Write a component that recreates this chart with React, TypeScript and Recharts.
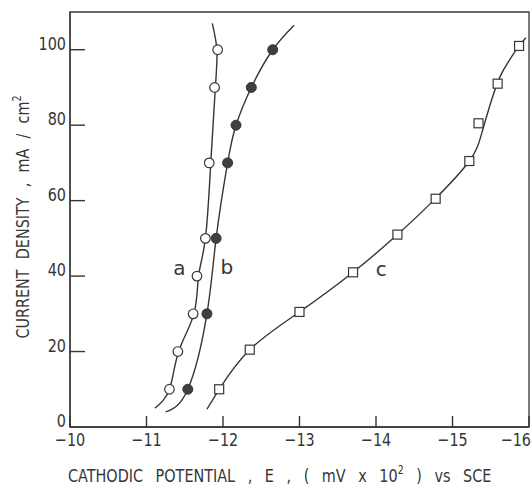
import {
  ComposedChart,
  Line,
  Scatter,
  XAxis,
  YAxis,
  ReferenceArea,
  ReferenceDot,
} from "recharts";

// measured points (E in mV x 10^2, current density in mA/cm2)
const seriesA = [
  { x: -11.3, y: 10 },
  { x: -11.41, y: 20 },
  { x: -11.61, y: 30 },
  { x: -11.66, y: 40 },
  { x: -11.77, y: 50 },
  { x: -11.82, y: 70 },
  { x: -11.89, y: 90 },
  { x: -11.93, y: 100 },
];
const seriesB = [
  { x: -11.54, y: 10 },
  { x: -11.79, y: 30 },
  { x: -11.91, y: 50 },
  { x: -12.06, y: 70 },
  { x: -12.17, y: 80 },
  { x: -12.37, y: 90 },
  { x: -12.65, y: 100 },
];
const seriesC = [
  { x: -11.95, y: 10 },
  { x: -12.35, y: 20.5 },
  { x: -13.0, y: 30.5 },
  { x: -13.7, y: 41 },
  { x: -14.28, y: 51 },
  { x: -14.78, y: 60.5 },
  { x: -15.22, y: 70.5 },
  { x: -15.34, y: 80.5 },
  { x: -15.59, y: 91 },
  { x: -15.87, y: 101 },
];

// hand-drawn fitted curves
const curveA = [
  { x: -11.11, y: 5 },
  { x: -11.3, y: 10 },
  { x: -11.42, y: 20 },
  { x: -11.62, y: 30 },
  { x: -11.68, y: 40 },
  { x: -11.77, y: 50 },
  { x: -11.84, y: 70 },
  { x: -11.9, y: 90 },
  { x: -11.92, y: 100 },
  { x: -11.86, y: 107 },
];
const curveB = [
  { x: -11.25, y: 4 },
  { x: -11.54, y: 10 },
  { x: -11.79, y: 30 },
  { x: -11.91, y: 50 },
  { x: -12.06, y: 70 },
  { x: -12.17, y: 80 },
  { x: -12.37, y: 90 },
  { x: -12.65, y: 100 },
  { x: -12.93, y: 106.5 },
];
const curveC = [
  { x: -11.79, y: 4.7 },
  { x: -11.95, y: 10 },
  { x: -12.35, y: 20.5 },
  { x: -13.0, y: 30.5 },
  { x: -13.7, y: 41 },
  { x: -14.28, y: 51 },
  { x: -14.78, y: 60.6 },
  { x: -15.22, y: 70.5 },
  { x: -15.38, y: 77.7 },
  { x: -15.51, y: 86.6 },
  { x: -15.62, y: 92.8 },
  { x: -15.73, y: 96.8 },
  { x: -15.87, y: 101 },
  { x: -15.96, y: 103.2 },
];

const curveLabels = [
  { name: "a", x: -11.43, y: 42.2 },
  { name: "b", x: -12.05, y: 42.4 },
  { name: "c", x: -14.07, y: 41.8 },
];

const xTicks = [-10, -11, -12, -13, -14, -15, -16];
const yTicks = [0, 20, 40, 60, 80, 100];

const INK = "#363636";
const FONT = "'DejaVu Sans', sans-serif";
const SQUEEZE = 0.8; // the original lettering is narrow

// chart geometry: margins + axis sizes decide where the axis lines sit
const W = 532;
const H = 490;
const MARGIN = { top: 12, right: 3, left: 30, bottom: 33 };
const Y_AXIS_W = 40;
const X_AXIS_H = 30;
const PLOT_LEFT = MARGIN.left + Y_AXIS_W;
const PLOT_BOTTOM = H - MARGIN.bottom - X_AXIS_H;
const X_TICK = 11; // inward tick lengths
const Y_TICK = 15;

// text drawn with narrower glyphs than any installed font offers
function Narrow({ x, y, anchor = "start", size = 18, rotate = 0, children, ...rest }: any) {
  return (
    <g transform={`translate(${x} ${y}) rotate(${rotate}) scale(${SQUEEZE} 1)`}>
      <text
        x={0}
        y={0}
        textAnchor={anchor}
        fontSize={size}
        fontFamily={FONT}
        fill={INK}
        {...rest}
      >
        {children}
      </text>
    </g>
  );
}

// ticks point into the plot, so draw them from the axis line ourselves
function XTick({ x, payload }: any) {
  const v = payload.value as number;
  const last = v === -16;
  return (
    <g>
      <line
        x1={x}
        x2={x}
        y1={PLOT_BOTTOM}
        y2={PLOT_BOTTOM - X_TICK}
        stroke={INK}
        strokeWidth={1.4}
      />
      <Narrow x={last ? 531 : x} y={PLOT_BOTTOM + 19} anchor={last ? "end" : "middle"}>
        {"\u2212" + Math.abs(v)}
      </Narrow>
    </g>
  );
}

function YTick({ y, payload }: any) {
  return (
    <g>
      {payload.value !== 0 && (
        <line
          x1={PLOT_LEFT}
          x2={PLOT_LEFT + Y_TICK}
          y1={y}
          y2={y}
          stroke={INK}
          strokeWidth={1.4}
        />
      )}
      <Narrow x={PLOT_LEFT - 4} y={y} anchor="end">
        {payload.value}
      </Narrow>
    </g>
  );
}

const OpenCircle = ({ cx, cy }: any) => (
  <circle cx={cx} cy={cy} r={4.8} fill="#fff" stroke={INK} strokeWidth={1.2} />
);
const FilledCircle = ({ cx, cy }: any) => (
  <circle cx={cx} cy={cy} r={5} fill="#3d403b" stroke={INK} strokeWidth={1} />
);
const OpenSquare = ({ cx, cy }: any) => (
  <rect
    x={cx - 4.5}
    y={cy - 4.5}
    width={9}
    height={9}
    fill="#fff"
    stroke={INK}
    strokeWidth={1.2}
  />
);

export default function App() {
  return (
    <div style={{ position: "absolute", left: 0, top: 0, background: "#fff" }}>
      <ComposedChart width={W} height={H} margin={MARGIN}>
        <XAxis
          type="number"
          dataKey="x"
          domain={[-16, -10]}
          reversed
          ticks={xTicks}
          tick={<XTick />}
          tickSize={6}
          tickMargin={2}
          tickLine={false}
          height={X_AXIS_H}
          stroke={INK}
          strokeWidth={1.3}
          allowDataOverflow
          interval={0}
          label={{
            content: () => (
              <Narrow x={68} y={482} size={18} wordSpacing={10}>
                CATHODIC POTENTIAL , E , ( mV x 10
                <tspan dy={-8} fontSize={12}>
                  2
                </tspan>
                <tspan dy={8}> ) vs SCE</tspan>
              </Narrow>
            ),
          }}
        />
        <YAxis
          type="number"
          dataKey="y"
          domain={[0, 110]}
          ticks={yTicks}
          tick={<YTick />}
          tickSize={6}
          tickMargin={2}
          tickLine={false}
          width={Y_AXIS_W}
          stroke={INK}
          strokeWidth={1.3}
          allowDataOverflow
          interval={0}
          label={{
            content: () => (
              <Narrow x={29} y={217} rotate={-90} anchor="middle" size={18} wordSpacing={7}>
                CURRENT DENSITY , mA / cm
                <tspan dy={-8} fontSize={12}>
                  2
                </tspan>
              </Narrow>
            ),
          }}
        />
        <ReferenceArea
          x1={-10}
          x2={-16}
          y1={0}
          y2={110}
          fill="none"
          stroke={INK}
          strokeWidth={1.3}
          ifOverflow="visible"
        />
        <Line
          data={curveA}
          dataKey="y"
          type="natural"
          stroke={INK}
          strokeWidth={1.4}
          dot={false}
          isAnimationActive={false}
        />
        <Line
          data={curveB}
          dataKey="y"
          type="natural"
          stroke={INK}
          strokeWidth={1.4}
          dot={false}
          isAnimationActive={false}
        />
        <Line
          data={curveC}
          dataKey="y"
          type="natural"
          stroke={INK}
          strokeWidth={1.4}
          dot={false}
          isAnimationActive={false}
        />
        <Scatter data={seriesA} shape={<OpenCircle />} isAnimationActive={false} />
        <Scatter data={seriesB} shape={<FilledCircle />} isAnimationActive={false} />
        <Scatter data={seriesC} shape={<OpenSquare />} isAnimationActive={false} />
        {curveLabels.map((l) => (
          <ReferenceDot
            key={l.name}
            x={l.x}
            y={l.y}
            r={0}
            stroke="none"
            label={{
              value: l.name,
              position: "center",
              fontSize: 20,
              fontFamily: FONT,
              fill: INK,
            }}
          />
        ))}
      </ComposedChart>
    </div>
  );
}
